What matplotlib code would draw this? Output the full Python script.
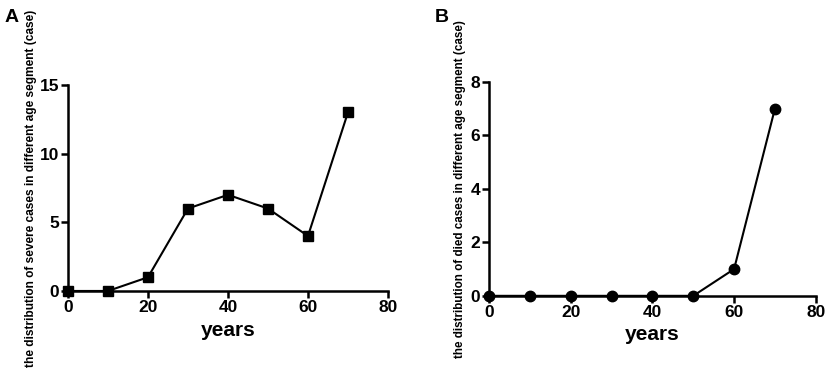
import numpy as np
import matplotlib
matplotlib.use("Agg")
import matplotlib.pyplot as plt

plt.rcParams['font.family'] = ['Liberation Sans', 'DejaVu Sans']
plt.rcParams['font.weight'] = 'bold'

years = [0, 10, 20, 30, 40, 50, 60, 70]
severe = [0, 0, 1, 6, 7, 6, 4, 13]
died = [0, 0, 0, 0, 0, 0, 1, 7]


def style(ax, ylim, yticks):
    ax.set_xlim(0, 80)
    ax.set_ylim(*ylim)
    ax.set_xticks([0, 20, 40, 60, 80])
    ax.set_yticks(yticks)
    for s in ['top', 'right']:
        ax.spines[s].set_visible(False)
    for s in ['left', 'bottom']:
        ax.spines[s].set_linewidth(1.8)
    ax.tick_params(width=1.8, length=5, labelsize=12.5, pad=1.5)
    for lab in ax.get_xticklabels() + ax.get_yticklabels():
        lab.set_fontweight('bold')
    ax.set_xlabel('years', fontsize=15, fontweight='bold', labelpad=4)


fig = plt.figure(figsize=(8.29, 3.74), dpi=100)

axA = fig.add_axes([0.082, 0.222, 0.386, 0.551])
axA.plot(years, severe, color='black', lw=1.5, marker='s', ms=7.5, clip_on=False, zorder=3)
style(axA, (0, 15), [0, 5, 10, 15])
axA.set_ylabel('the distribution of severe cases in different age segment (case)',
               fontsize=8.6, fontweight='bold', labelpad=2)

axB = fig.add_axes([0.590, 0.209, 0.394, 0.572])
axB.plot(years, died, color='black', lw=1.5, marker='o', ms=7.5, clip_on=False, zorder=3)
style(axB, (0, 8), [0, 2, 4, 6, 8])
axB.set_ylabel('the distribution of died cases in different age segment (case)',
               fontsize=8.4, fontweight='bold', labelpad=3)

fig.text(0.006, 0.975, 'A', fontsize=14, fontweight='bold', va='top')
fig.text(0.524, 0.975, 'B', fontsize=14, fontweight='bold', va='top')

fig.savefig('out.png', dpi=100)
